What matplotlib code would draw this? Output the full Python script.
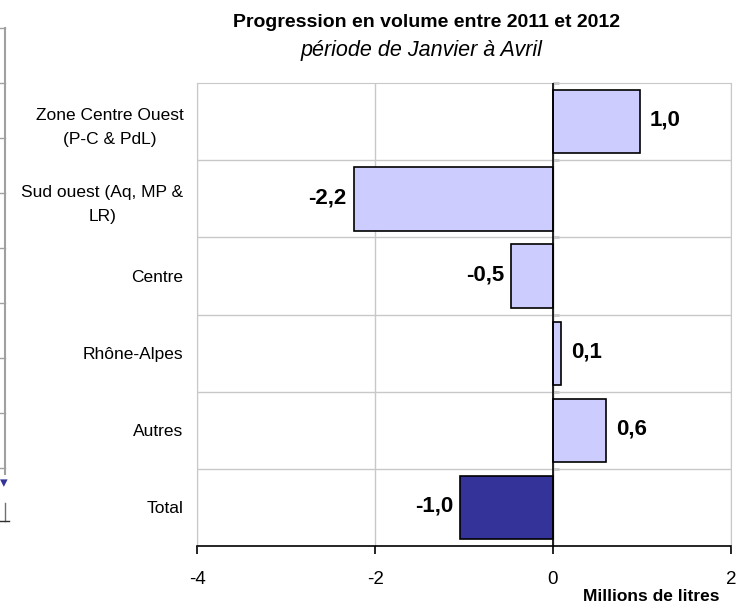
import matplotlib
matplotlib.use('Agg')
import matplotlib.pyplot as plt
from matplotlib.lines import Line2D

# data
categories = ['Zone Centre Ouest\n(P-C & PdL)', 'Sud ouest (Aq, MP &\nLR)', 'Centre',
              'Rhône-Alpes', 'Autres', 'Total']
values = [0.98, -2.24, -0.47, 0.09, 0.60, -1.04]
labels = ['1,0', '-2,2', '-0,5', '0,1', '0,6', '-1,0']
colors = ['#CCCCFF', '#CCCCFF', '#CCCCFF', '#CCCCFF', '#CCCCFF', '#333399']
xticks = [-4, -2, 0, 2]

plt.rcParams['font.family'] = ['Liberation Sans', 'DejaVu Sans']

fig = plt.figure(figsize=(7.36, 6.12), dpi=100)
ax = fig.add_axes([0.268, 0.108, 0.725, 0.756])

pos = list(range(len(categories)))
ax.barh(pos, values, height=0.82, color=colors, edgecolor='black', linewidth=1.2, zorder=3)

ax.set_xlim(-4, 2)
ax.set_ylim(len(categories) - 0.5, -0.5)

# category labels
ax.set_yticks(pos)
ax.set_yticklabels(categories, fontsize=12.5, multialignment='center', linespacing=1.75)
ax.tick_params(axis='y', length=0, pad=10)

# boundaries between categories -> grey grid lines
ax.set_yticks([p + 0.5 for p in pos[:-1]], minor=True)
ax.tick_params(axis='y', which='minor', length=0)
ax.grid(axis='y', which='minor', color='#c8c8c8', linewidth=1, zorder=0)

ax.set_xticks(xticks)
ax.set_xticklabels([str(t) for t in xticks], fontsize=13.5)
ax.tick_params(axis='x', direction='out', length=6, width=1.2, pad=12)
ax.grid(axis='x', which='major', color='#c8c8c8', linewidth=1, zorder=0)

for s in ['top', 'right', 'left']:
    ax.spines[s].set_color('#c8c8c8')
ax.spines['bottom'].set_linewidth(1.2)

# zero line with small ticks at the category boundaries
ax.axvline(0, color='black', linewidth=1.2, zorder=4)
zero_ax = ax.secondary_yaxis((0 - xticks[0]) / (xticks[-1] - xticks[0]))
zero_ax.set_yticks([p + 0.5 for p in pos[:-1]] + [-0.5])
zero_ax.set_yticklabels([])
zero_ax.tick_params(length=4, width=1, direction='out')
zero_ax.spines['left'].set_visible(False)

# value labels
for p, v, lab in zip(pos, values, labels):
    if v >= 0:
        ax.annotate(lab, (v, p), xytext=(7, 1), textcoords='offset points',
                    ha='left', va='center', fontsize=16, fontweight='bold')
    else:
        ax.annotate(lab, (v, p), xytext=(-5, 1), textcoords='offset points',
                    ha='right', va='center', fontsize=16, fontweight='bold')

fig.text(0.58, 0.964, 'Progression en volume entre 2011 et 2012', ha='center', va='center',
         fontsize=14, fontweight='bold')
fig.text(0.573, 0.918, 'période de Janvier à Avril', ha='center', va='center',
         fontsize=15.5, style='italic')
fig.text(0.978, 0.025, 'Millions de litres', ha='right', va='center',
         fontsize=12.5, fontweight='bold')

# cropped neighbour chart on the far left edge
fig.add_artist(Line2D([0.007, 0.007], [0.954, 0.225], color='#a0a0a0', linewidth=1.5))
for k in range(9):
    yy = 0.954 - k * (0.954 - 0.235) / 8
    fig.add_artist(Line2D([0.0, 0.007], [yy, yy], color='#a0a0a0', linewidth=1))
fig.add_artist(Line2D([0.007, 0.007], [0.178, 0.148], color='#707070', linewidth=1))
fig.add_artist(Line2D([0.0, 0.012], [0.148, 0.148], color='#303030', linewidth=1))
fig.text(0.0, 0.211, '▾', color='#333399', fontsize=11, ha='left', va='center',
         family=['DejaVu Sans'])

fig.savefig('out.png', dpi=100)
